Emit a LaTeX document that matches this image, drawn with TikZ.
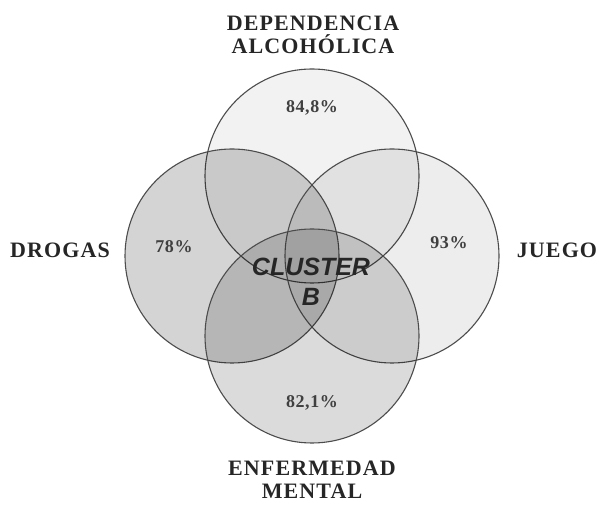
\documentclass[tikz,border=0pt]{standalone}
\usepackage{fontspec}
\setmainfont{Liberation Serif}
\newfontfamily\clusterfont{Liberation Sans}
\usetikzlibrary{positioning}

\tikzset{
  setcircle/.style={circle,draw=black!70,line width=1.1pt,minimum size=214pt,
    inner sep=0pt,outer sep=0pt,fill=black,fill opacity=#1,text opacity=1},
  setlabel/.style={font=\fontsize{22}{24}\selectfont\bfseries\addfontfeatures{LetterSpace=5},
    align=center,text=black!85,inner sep=1pt},
  pct/.style={font=\fontsize{18}{20}\selectfont\bfseries\addfontfeatures{LetterSpace=3},text=black!75}
}

\begin{document}
\begin{tikzpicture}[x=1pt,y=1pt]
  \useasboundingbox (0,0) rectangle (599,505);
  % the four sets
  \node[setcircle=0.05] (alc)  at (312,329) {};
  \node[setcircle=0.17] (drog) at (232,249) {};
  \node[setcircle=0.07] (jueg) at (392,249) {};
  \node[setcircle=0.14] (ment) at (312,169) {};
  % names of the sets
  \node[setlabel] (alcname)  at (313,470) {DEPENDENCIA\\[-1pt]ALCOHÓLICA};
  \node[setlabel] (drogname) at (60,255)  {DROGAS};
  \node[setlabel] (juegname) at (557,255) {JUEGO};
  \node[setlabel] (mentname) at (312,25)  {ENFERMEDAD\\[-1pt]MENTAL};
  % percentages
  \node[pct] (alcpct)  at (312,397) {84,8\%};
  \node[pct] (drogpct) at (174,258) {78\%};
  \node[pct] (juegpct) at (449,262) {93\%};
  \node[pct] (mentpct) at (312,102) {82,1\%};
  % centre
  \node[font=\fontsize{25}{30}\selectfont\clusterfont\bfseries\itshape,align=center,text=black!85]
    (cluster) at (311,223) {CLUSTER\\B};
\end{tikzpicture}
\end{document}
